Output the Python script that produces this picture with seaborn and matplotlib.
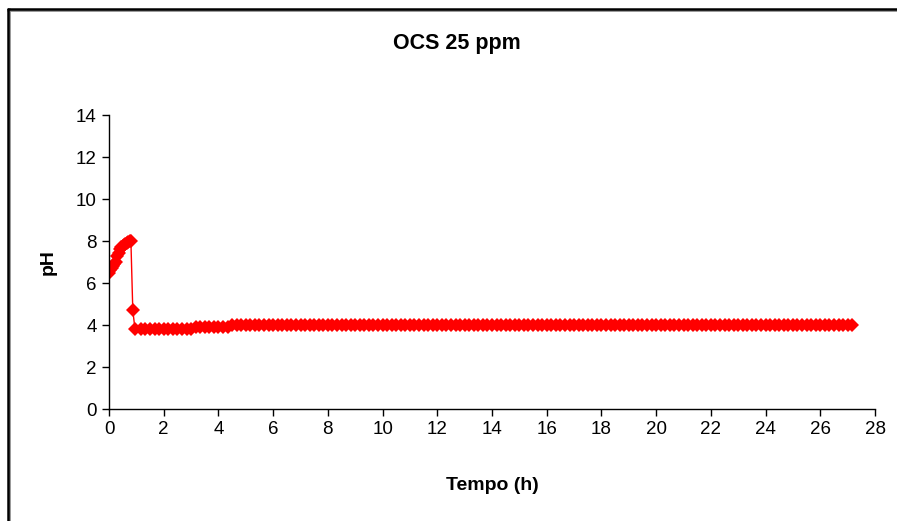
import numpy as np
import pandas as pd
import matplotlib
matplotlib.use("Agg")
import matplotlib.pyplot as plt
from matplotlib.lines import Line2D
import seaborn as sns

# Sampling times (h) and pH readings
early_time = [0.00, 0.05, 0.10, 0.15, 0.20, 0.25, 0.30, 0.35, 0.40, 0.45,
              0.50, 0.55, 0.60, 0.65, 0.70, 0.75, 0.80, 0.87, 0.95]
early_ph = [6.50, 6.60, 6.70, 6.80, 6.90, 7.00, 7.30, 7.45, 7.60, 7.70,
            7.75, 7.80, 7.85, 7.90, 7.95, 8.00, 8.02, 4.70, 3.80]

later_minutes = np.arange(70, 1640, 10)
later_time = list(later_minutes / 60.0)
later_ph = [3.8] * 12 + [3.9] * 8 + [4.0] * (len(later_minutes) - 20)

time_h = early_time + later_time
ph = early_ph + later_ph

x_ticks = list(range(0, 29, 2))
y_ticks = list(range(0, 15, 2))

df = pd.DataFrame({"Tempo (h)": time_h, "pH": ph})

sns.set_style("white")
plt.rcParams["font.family"] = ["Liberation Sans", "DejaVu Sans"]
plt.rcParams["text.color"] = "#000000"
plt.rcParams["xtick.color"] = "#000000"
plt.rcParams["ytick.color"] = "#000000"

fig = plt.figure(figsize=(8.97, 5.21), dpi=100)
ax = fig.add_axes([109 / 897, 1 - 409 / 521, (875 - 109) / 897, (409 - 115) / 521])

sns.lineplot(data=df, x="Tempo (h)", y="pH", ax=ax, color="#ff0000",
             linewidth=1.0, marker="D", markersize=7, markeredgewidth=0,
             sort=False, estimator=None)

ax.set_xlim(0, 28)
ax.set_ylim(0, 14)
ax.set_xticks(x_ticks)
ax.set_yticks(y_ticks)
ax.tick_params(axis="both", which="major", labelsize=13.5, direction="out",
               length=5, width=1, color="#000000", labelcolor="#000000",
               pad=4, bottom=True, left=True)
for side in ("top", "right"):
    ax.spines[side].set_visible(False)
for side in ("left", "bottom"):
    ax.spines[side].set_color("#000000")
    ax.spines[side].set_linewidth(1.0)

ax.set_xlabel("")
ax.set_ylabel("")
fig.text(492 / 897, 1 - 485 / 521, "Tempo (h)", ha="center", va="center",
         fontsize=14, fontweight="bold", color="#000000")
fig.text(48 / 897, 1 - 262 / 521, "pH", ha="center", va="center",
         rotation=90, fontsize=14, fontweight="bold", color="#000000")
fig.text(457 / 897, 1 - 43 / 521, "OCS 25 ppm", ha="center", va="center",
         fontsize=15.5, fontweight="bold", color="#000000")

# Frame around the chart area (top and left edges)
fig.add_artist(Line2D([8 / 897, 1.0], [1 - 11 / 521, 1 - 11 / 521],
                      transform=fig.transFigure, color="#888888", linewidth=1.2))
fig.add_artist(Line2D([9.5 / 897, 9.5 / 897], [0.0, 1 - 9 / 521],
                      transform=fig.transFigure, color="#888888", linewidth=1.2))
fig.add_artist(Line2D([8 / 897, 1.0], [1 - 9 / 521, 1 - 9 / 521],
                      transform=fig.transFigure, color="#000000", linewidth=1.8))
fig.add_artist(Line2D([8 / 897, 8 / 897], [0.0, 1 - 9 / 521],
                      transform=fig.transFigure, color="#000000", linewidth=1.8))

fig.savefig("out.png", dpi=100)
